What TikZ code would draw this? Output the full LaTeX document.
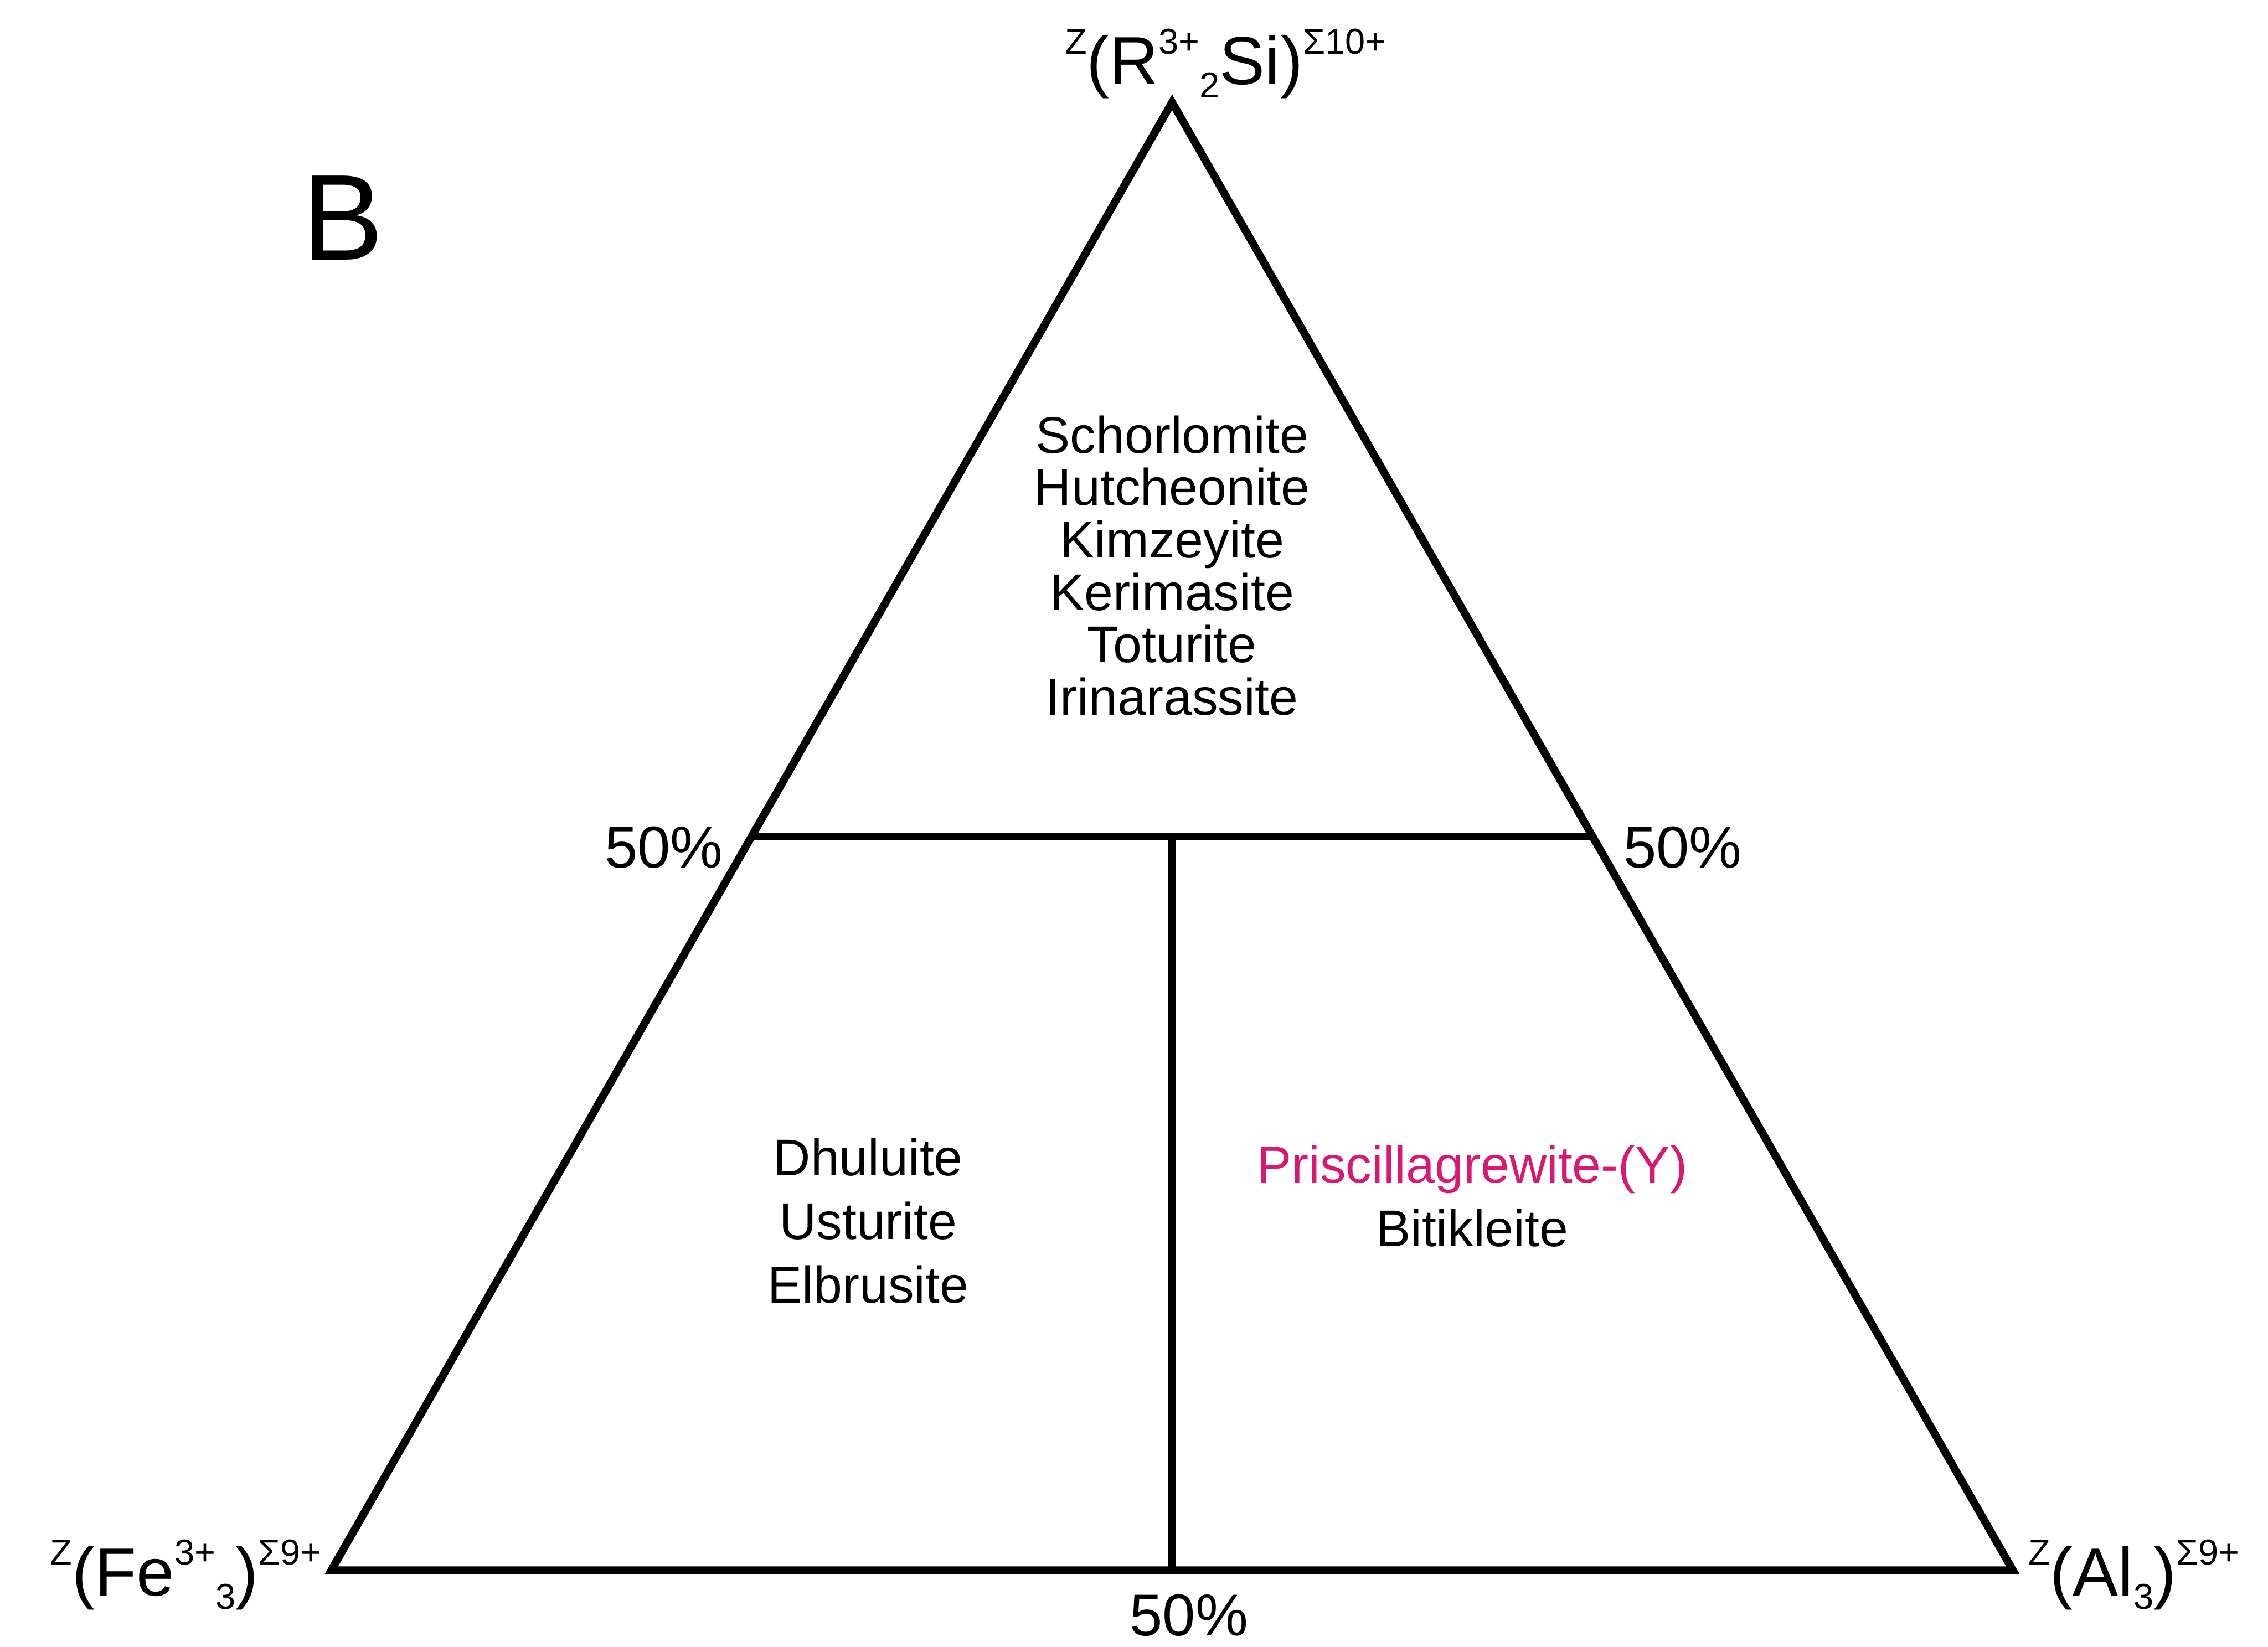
\documentclass[tikz,border=0pt]{standalone}
\usepackage{fontspec}
\setmainfont{Liberation Sans}
\usetikzlibrary{positioning, calc}
\definecolor{pinkname}{RGB}{218,24,112}
\tikzset{
    side/.style={line width=2.85pt, line join=miter}, % all the lines of the triangle
    mineral/.style={font=\fontsize{18.8}{22}\selectfont, inner sep=0pt, text height=0.5cm, text depth=0.15cm}, % same box for every name, so the rows stay even
    pct/.style={font=\fontsize{21.5}{25}\selectfont, inner sep=0pt}, % the 50% marks
    corner/.style={font=\fontsize{24.8}{28}\selectfont, inner sep=0pt}, % end members
    node distance=0.67cm, % row distance of the top list. Change if necessary.
}
% small raised / lowered indices of the formulas
\newcommand{\upidx}[1]{\raisebox{0.45em}{\fontsize{13.1}{14}\selectfont #1}}
\newcommand{\lowidx}[1]{\raisebox{-0.2em}{\fontsize{13.1}{14}\selectfont #1}}

\begin{document}
\begin{tikzpicture}
    \useasboundingbox (0,0) rectangle (29.025,21.08);
    \coordinate (top) at (15,19.77);
    \coordinate (fe) at (4.24,0.98);
    \coordinate (al) at (25.76,0.98);
    \coordinate (lm) at ($(fe)!0.5!(top)$);
    \coordinate (rm) at ($(al)!0.5!(top)$);
    \coordinate (bm) at ($(fe)!0.5!(al)$);
    \coordinate (hm) at ($(lm)!0.5!(rm)$);
    \draw[side] (top) -- (fe) -- (al) -- cycle;
    \draw[side] (lm) -- (rm);
    \draw[side] (hm) -- (bm);

    \node[font=\fontsize{44.5}{50}\selectfont, inner sep=0pt, anchor=base west] (B) at (3.86,17.75) {B};

    \node[corner, anchor=base west] (rsi) at (13.62,20.0) {\upidx{Z}(R\upidx{3+}\lowidx{2}Si)\upidx{Σ10+}};
    \node[corner, anchor=base east] (fe3) at (4.12,0.655) {\upidx{Z}(Fe\upidx{3+}\lowidx{3})\upidx{Σ9+}};
    \node[corner, anchor=base west] (al3) at (25.95,0.655) {\upidx{Z}(Al\lowidx{3})\upidx{Σ9+}};

    \node[pct, anchor=base east] (pl) at (9.26,9.975) {50\%};
    \node[pct, anchor=base west] (pr) at (20.77,9.975) {50\%};
    \node[pct, anchor=base] (pb) at (15.215,0.145) {50\%};

    \node[mineral, anchor=base] (sch) at (15,15.28) {Schorlomite};
    \node[mineral, below of=sch] (hut) {Hutcheonite};
    \node[mineral, below of=hut] (kim) {Kimzeyite};
    \node[mineral, below of=kim] (ker) {Kerimasite};
    \node[mineral, below of=ker] (tot) {Toturite};
    \node[mineral, below of=tot] (iri) {Irinarassite};

    \node[mineral, anchor=base] (dhu) at (11.11,6.03) {Dhuluite};
    \node[mineral, below of=dhu, node distance=0.815cm] (ust) {Usturite};
    \node[mineral, below of=ust, node distance=0.815cm] (elb) {Elbrusite};

    \node[mineral, anchor=base, text=pinkname] (pri) at (18.84,5.94) {Priscillagrewite-(Y)};
    \node[mineral, below of=pri, node distance=0.815cm] (bit) {Bitikleite};
\end{tikzpicture}
\end{document}
